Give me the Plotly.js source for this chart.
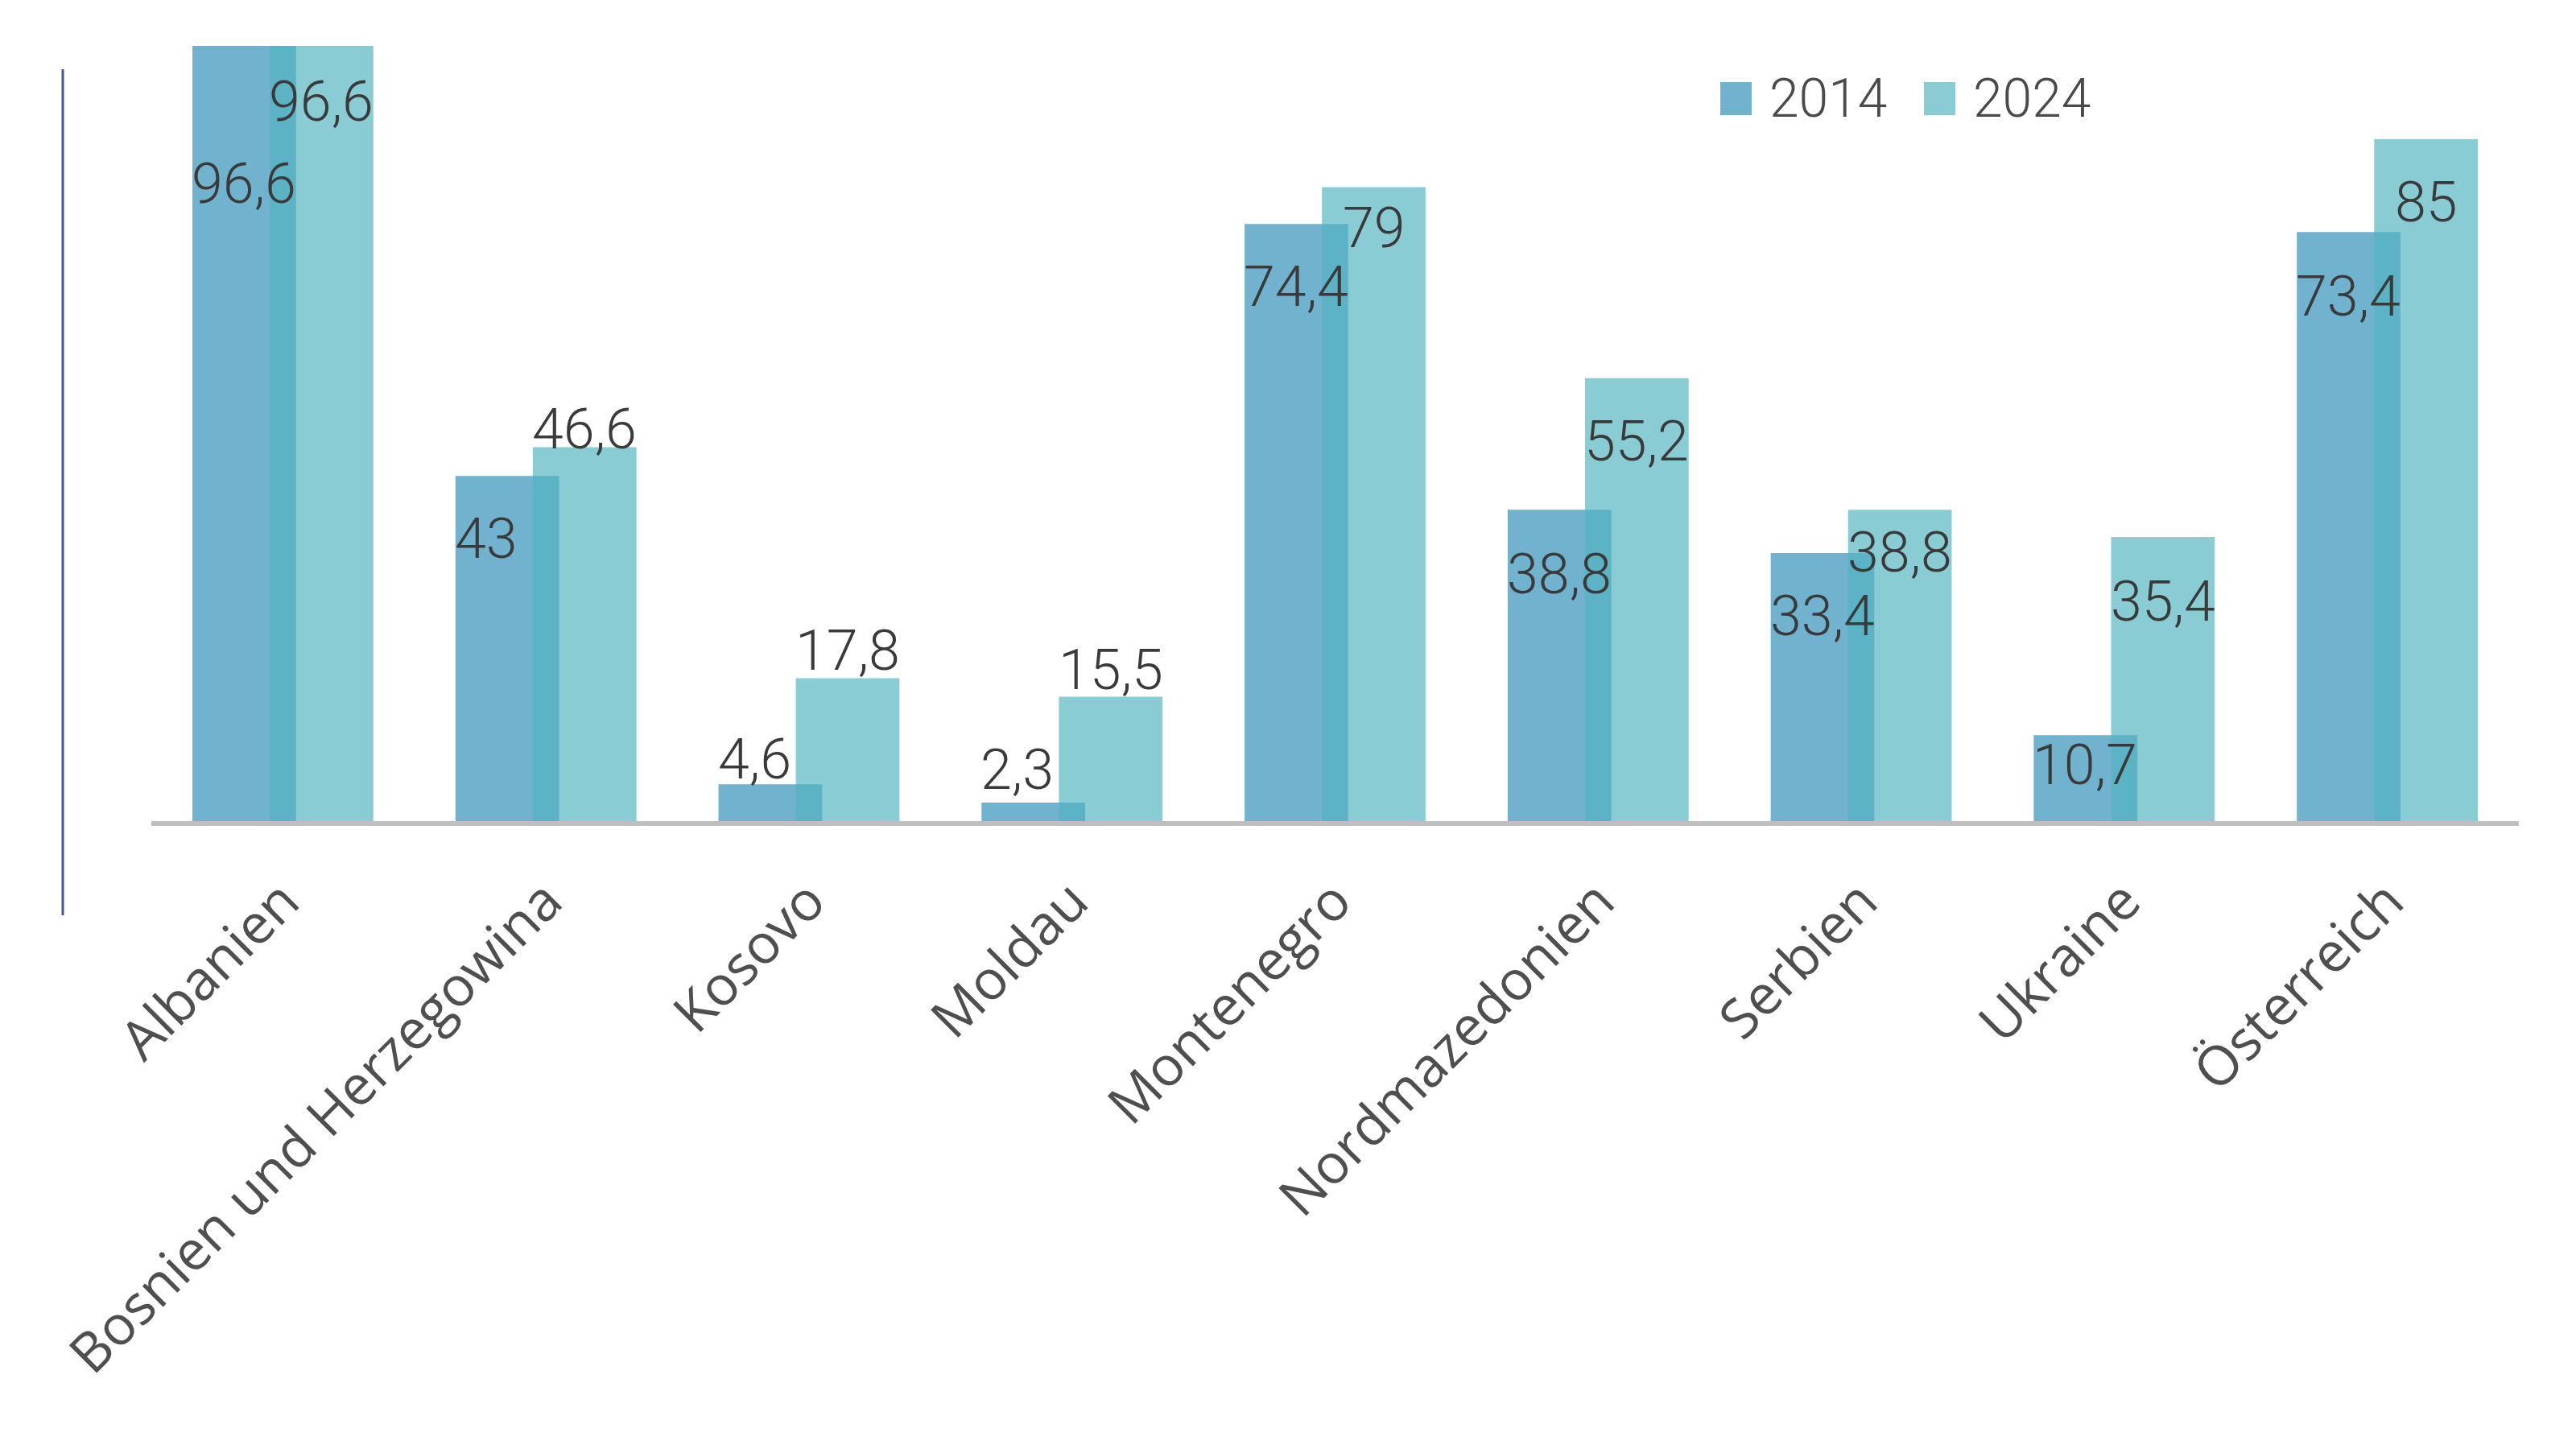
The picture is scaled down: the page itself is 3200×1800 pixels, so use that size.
<!DOCTYPE html>
<html>
<head>
<meta charset="utf-8">
<script src="https://cdn.plot.ly/plotly-3.0.1.min.js"></script>
<style>html,body{margin:0;padding:0;background:#fff;}#chart{width:3200px;height:1800px;}</style>
</head>
<body>
<div id="chart"></div>
<script>
// ---- data ----
const categories = ["Albanien", "Bosnien und Herzegowina", "Kosovo", "Moldau", "Montenegro", "Nordmazedonien", "Serbien", "Ukraine", "Österreich"];
const seriesNames = ["2014", "2024"];
const values2014 = [96.6, 43, 4.6, 2.3, 74.4, 38.8, 33.4, 10.7, 73.4];
const values2024 = [96.6, 46.6, 17.8, 15.5, 79, 55.2, 38.8, 35.4, 85];
const labels2014 = ["96,6", "43", "4,6", "2,3", "74,4", "38,8", "33,4", "10,7", "73,4"];
const labels2024 = ["96,6", "46,6", "17,8", "15,5", "79", "55,2", "38,8", "35,4", "85"];

// ---- styling ----
const color2014 = "#71b2cf";
const color2024 = "rgb(83,180,192)";
const opacity2024 = 0.68;
const barWidth = 0.394;
const offset2014 = -0.344;
const offset2024 = -0.05;
// manual label placement (pixel shifts relative to bar top), as in the original
const shift2014 = [-171, -78, 31, 41, -78, -80, -78, -37, -80];
const shift2024 = [-69, 22, 35, 33, -51, -78, -53, -80, -78];

const labelFont = {family: "Roboto, sans-serif", size: 70, color: "#3a3a3a", weight: 300};

const traces = [
  {type: "bar", name: seriesNames[0], x: categories, y: values2014,
   width: barWidth, offset: offset2014, marker: {color: color2014, line: {width: 0}},
   hoverinfo: "none", showlegend: false},
  {type: "bar", name: seriesNames[1], x: categories, y: values2024,
   width: barWidth, offset: offset2024, opacity: opacity2024,
   marker: {color: color2024, line: {width: 0}},
   hoverinfo: "none", showlegend: false}
];

const annotations = [];
categories.forEach((c, i) => {
  annotations.push({x: i + offset2014, y: values2014[i], xref: "x", yref: "y",
    text: labels2014[i], showarrow: false, xanchor: "left", yanchor: "middle",
    xshift: -3, yshift: shift2014[i], font: labelFont});
  annotations.push({x: i + offset2024 + barWidth / 2, y: values2024[i], xref: "x", yref: "y",
    text: labels2024[i], showarrow: false, xanchor: "center", yanchor: "middle",
    yshift: shift2024[i], font: labelFont});
});

// custom legend (large squares as in the original)
const legendColors = [color2014, "#8acbd4"];
const legX = [0.6627, 0.7487];
const shapes = [
  {type: "line", xref: "paper", yref: "paper", x0: -0.0374, x1: -0.0374, y0: -0.1215, y1: 0.970,
   line: {color: "#3d5696", width: 3}}
];
seriesNames.forEach((n, k) => {
  shapes.push({type: "rect", xref: "paper", yref: "paper", x0: legX[k], x1: legX[k] + 0.0133,
    y0: 0.9107, y1: 0.9533, fillcolor: legendColors[k], line: {width: 0}});
  annotations.push({xref: "paper", yref: "paper", x: legX[k] + 0.0201, y: 0.9325,
    text: n, showarrow: false, xanchor: "left", yanchor: "middle",
    font: {family: "Roboto, sans-serif", size: 66, color: "#4a4a4a", weight: 300}});
});

const layout = {
  width: 3200, height: 1800,
  margin: {l: 188, r: 71, t: 57, b: 780, pad: 0},
  paper_bgcolor: "#ffffff", plot_bgcolor: "#ffffff",
  barmode: "overlay",
  showlegend: false,
  xaxis: {type: "category", range: [-0.5, 8.5], showline: true, linecolor: "#bfbfbf", linewidth: 6,
    showgrid: false, zeroline: false, ticks: "", tickangle: -45, ticklabelstandoff: 26,
    tickfont: {family: "'Open Sans', sans-serif", size: 68, color: "#4f4f4f"}},
  yaxis: {range: [0, 96.6], visible: false, showgrid: false, zeroline: false},
  shapes: shapes,
  annotations: annotations
};

Plotly.newPlot("chart", traces, layout, {staticPlot: true});
</script>
</body>
</html>
